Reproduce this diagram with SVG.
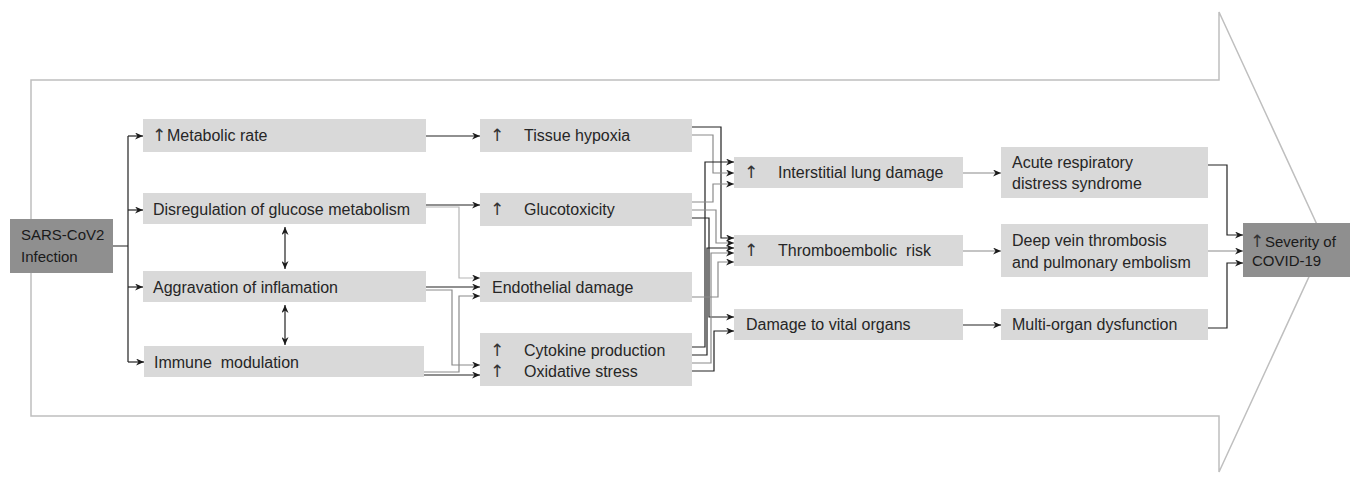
<svg xmlns="http://www.w3.org/2000/svg" width="1350" height="481" viewBox="0 0 1350 481">
<style>
.bg{fill:#ffffff}
.big{fill:#ffffff;stroke:#bfbfbf;stroke-width:1.5}
.box{fill:#d9d9d9}
.dark{fill:#8f8f8f}
.t{font-family:"Liberation Sans",Arial,sans-serif;font-size:16px;fill:#262626}
.td{font-family:"Liberation Sans",Arial,sans-serif;font-size:15px;fill:#1a1a1a}
.up{font-family:"DejaVu Sans",sans-serif;font-size:17px;fill:#333333}
.c{fill:none;stroke:#222;stroke-width:1.2}
.g{fill:none;stroke:#8a8a8a;stroke-width:1.2}
.lg{fill:none;stroke:#b5b5b5;stroke-width:1.2}
.a{marker-end:url(#ah)}
.aa{marker-end:url(#ah);marker-start:url(#ahs)}
</style>
<defs>
<marker id="ah" viewBox="0 0 8 7" refX="8" refY="3.5" markerWidth="8" markerHeight="7" markerUnits="userSpaceOnUse" orient="auto"><path d="M0,0 L8,3.5 L0,7 L2.5,3.5 z" fill="#1a1a1a"/></marker>
<marker id="ahs" viewBox="0 0 8 7" refX="8" refY="3.5" markerWidth="8" markerHeight="7" markerUnits="userSpaceOnUse" orient="auto-start-reverse"><path d="M0,0 L8,3.5 L0,7 L2.5,3.5 z" fill="#1a1a1a"/></marker>
</defs>
<rect class="bg" x="0" y="0" width="1350" height="481"/>
<polygon id="big-arrow" class="big" points="31,80 1219,80 1219,12 1325,242 1219,472 1219,416 31,416"/>

<g id="connectors">
<path class="c" d="M113,246 H128 M128,136 V362"/>
<path class="c a" d="M128,136 H143"/>
<path class="c a" d="M128,210 H143"/>
<path class="c a" d="M128,287 H143"/>
<path class="c a" d="M128,362 H144"/>
<path class="c aa" d="M285,227 V269"/>
<path class="c aa" d="M285,305 V345"/>
<path class="c a" d="M426,136 H480"/>
<path class="lg a" d="M426,207 H459 V278 H480"/>
<path class="c a" d="M426,205 H480"/>
<path class="g a" d="M426,290 H452 V365 H480"/>
<path class="c a" d="M426,287 H480"/>
<path class="g a" d="M424,372 H459 V296 H480"/>
<path class="c a" d="M424,375 H480"/>

<path class="c a" d="M692,127 H721 V238 H734"/>
<path class="g a" d="M692,135 H713 V173 H734"/>
<path class="c a" d="M692,347 H705 V162 H734"/>
<path class="g a" d="M692,202 H713 V184 H734"/>
<path class="g a" d="M692,210 H716 V243 H734"/>
<path class="c a" d="M692,218 H709 V317 H734"/>
<path class="c a" d="M692,355 H707 V248 H734"/>
<path class="g a" d="M692,363 H711 V253 H734"/>
<path class="c a" d="M692,371 H714 V331 H734"/>
<path class="g a" d="M692,297 H718 V262 H734"/>

<path class="g a" d="M963,173 H1001"/>
<path class="g a" d="M963,251 H1001"/>
<path class="c a" d="M963,325 H1001"/>

<path class="c a" d="M1208,165 H1227 V235 H1243"/>
<path class="g a" d="M1208,251 H1243"/>
<path class="c a" d="M1208,328 H1227 V263 H1243"/>
</g>

<g id="sars"><rect class="dark" x="10" y="219" width="103" height="54"/><text class="td" x="21" y="240">SARS-CoV2</text><text class="td" x="21" y="262">Infection</text></g>

<g id="metabolic"><rect class="box" x="143" y="119" width="283" height="33"/><text class="up" x="152" y="141">↑</text><text class="t" x="167" y="141">Metabolic rate</text></g>
<g id="disregulation"><rect class="box" x="143" y="193" width="283" height="31"/><text class="t" x="153" y="215">Disregulation of glucose metabolism</text></g>
<g id="aggravation"><rect class="box" x="143" y="271" width="283" height="31"/><text class="t" x="153" y="293">Aggravation of inflamation</text></g>
<g id="immune"><rect class="box" x="144" y="346" width="280" height="31"/><text class="t" x="154" y="368" xml:space="preserve">Immune  modulation</text></g>

<g id="tissue"><rect class="box" x="480" y="119" width="212" height="33"/><text class="up" x="490" y="141">↑</text><text class="t" x="524" y="141">Tissue hypoxia</text></g>
<g id="gluco"><rect class="box" x="480" y="193" width="212" height="33"/><text class="up" x="490" y="215">↑</text><text class="t" x="524" y="215">Glucotoxicity</text></g>
<g id="endothelial"><rect class="box" x="480" y="272" width="212" height="30"/><text class="t" x="492" y="293">Endothelial damage</text></g>
<g id="cytokine"><rect class="box" x="480" y="333" width="212" height="53"/><text class="up" x="490" y="356">↑</text><text class="t" x="524" y="356">Cytokine production</text><text class="up" x="490" y="377">↑</text><text class="t" x="524" y="377">Oxidative stress</text></g>

<g id="interstitial"><rect class="box" x="734" y="157" width="229" height="31"/><text class="up" x="744" y="178">↑</text><text class="t" x="778" y="178">Interstitial lung damage</text></g>
<g id="thrombo"><rect class="box" x="734" y="235" width="229" height="31"/><text class="up" x="744" y="256">↑</text><text class="t" x="778" y="256" xml:space="preserve">Thromboembolic  risk</text></g>
<g id="vital"><rect class="box" x="734" y="309" width="229" height="31"/><text class="t" x="746" y="330">Damage to vital organs</text></g>

<g id="ards"><rect class="box" x="1001" y="147" width="207" height="51"/><text class="t" x="1012" y="168">Acute respiratory</text><text class="t" x="1012" y="189">distress syndrome</text></g>
<g id="dvt"><rect class="box" x="1001" y="224" width="207" height="53"/><text class="t" x="1012" y="246">Deep vein thrombosis</text><text class="t" x="1012" y="268">and pulmonary embolism</text></g>
<g id="multi"><rect class="box" x="1001" y="309" width="207" height="31"/><text class="t" x="1012" y="330">Multi-organ dysfunction</text></g>

<g id="severity"><rect class="dark" x="1243" y="223" width="107" height="54"/><text class="up" x="1250" y="247">↑</text><text class="td" x="1265" y="247">Severity of</text><text class="td" x="1252" y="266">COVID-19</text></g>
</svg>
